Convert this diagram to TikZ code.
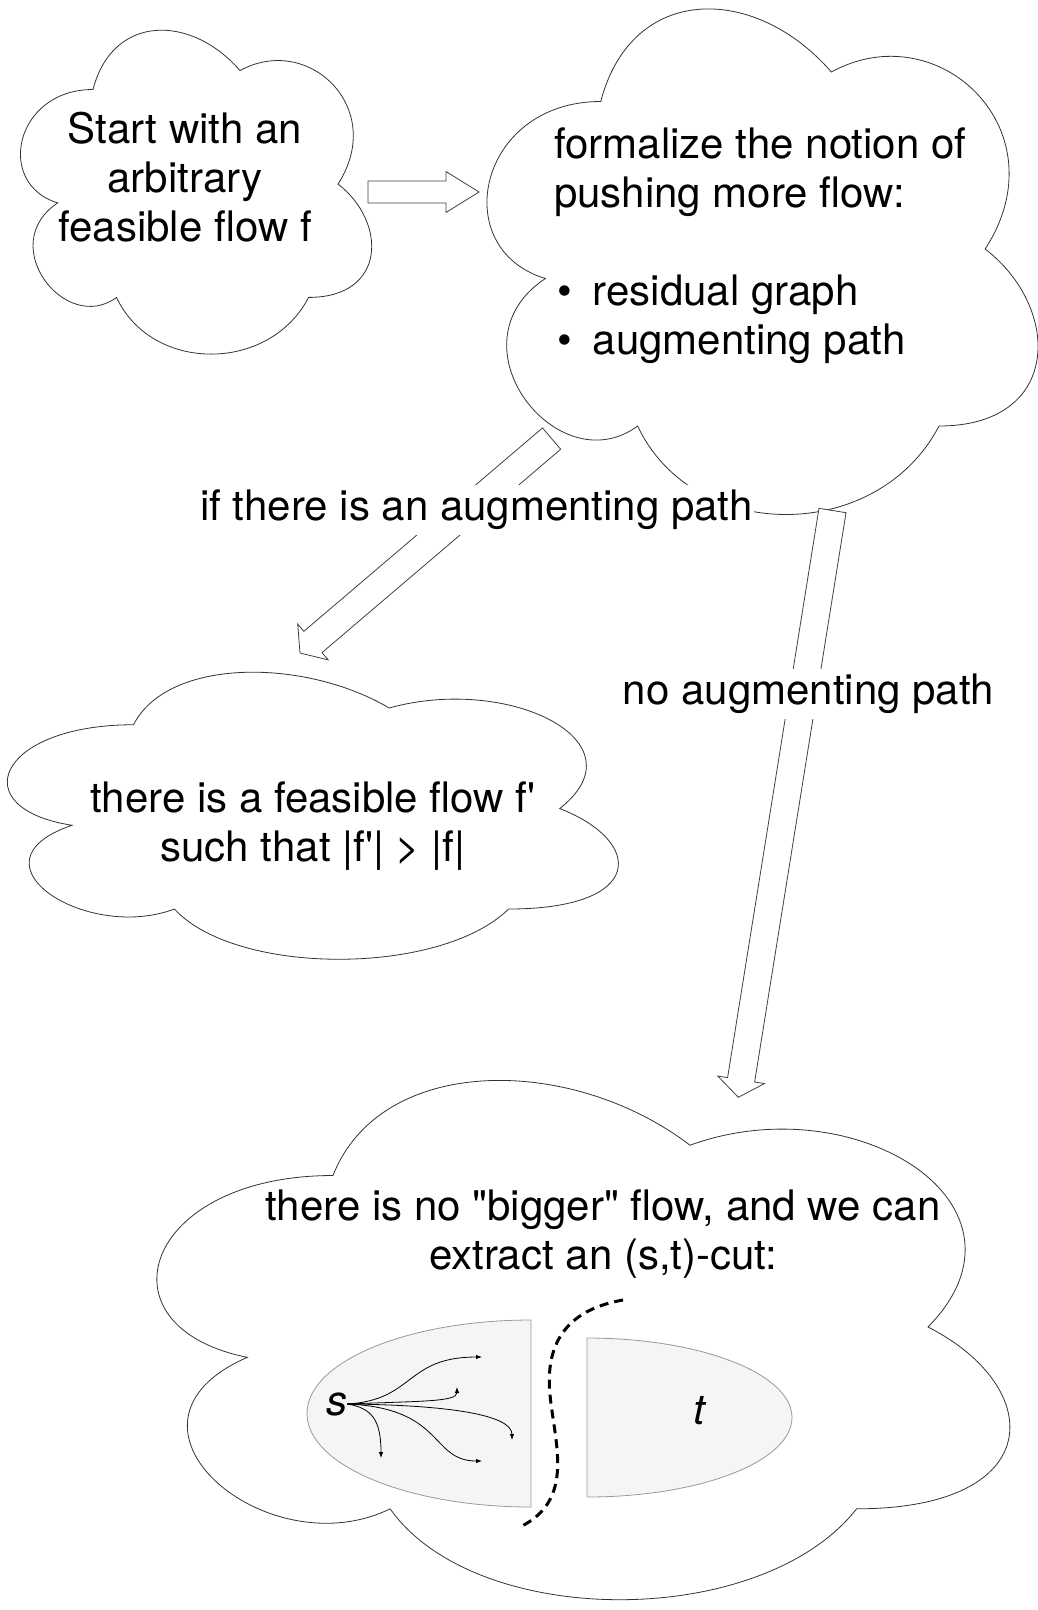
\documentclass[tikz,border=0pt]{standalone}
\usepackage{fontspec}
\newfontfamily\diagfont{TeX Gyre Heros}
\usetikzlibrary{arrows.meta, calc}

% hollow block arrow: from, to, shaft half width, head half width, head length
\newcommand{\blockarrow}[5]{%
  \coordinate (hb) at ($(#2)!#5!(#1)$);
  \draw[blockarrow] ($(#1)!#3!90:(#2)$) -- ($(hb)!#3!90:(#2)$) -- ($(hb)!#4!90:(#2)$) -- (#2)
    -- ($(hb)!#4!-90:(#2)$) -- ($(hb)!#3!-90:(#2)$) -- ($(#1)!#3!-90:(#2)$) -- cycle;}

\begin{document}
\begin{tikzpicture}[x=1pt, y=-1pt,
    txt/.style={font=\diagfont\fontsize{42}{49}\selectfont, inner sep=0pt},
    cloudline/.style={draw=black!80, fill=white, line width=0.8pt},
    blockarrow/.style={draw=black!75, fill=white, line width=0.8pt},
    edgelabel/.style={txt, fill=white, inner xsep=1pt, inner ysep=5pt},
    region/.style={fill=black!4, draw=black!40, line width=0.8pt},
    cutline/.style={line width=3pt, dash pattern=on 9pt off 6pt},
    flow/.style={-{Latex[length=6pt,width=4.5pt]}, line width=0.8pt},
    mxcloud/.pic={\path[cloudline] (0.25,0.25) .. controls (0.05,0.25) and (0,0.5) .. (0.16,0.55)
      .. controls (0,0.66) and (0.18,0.9) .. (0.31,0.8) .. controls (0.4,1) and (0.7,1) .. (0.8,0.8)
      .. controls (1,0.8) and (1,0.6) .. (0.875,0.5) .. controls (1,0.3) and (0.8,0.1) .. (0.625,0.2)
      .. controls (0.5,0.05) and (0.3,0.05) .. (0.25,0.25) -- cycle;}]
    \useasboundingbox (0,0) rectangle (1037,1610);

    % Clouds
    \path[shift={(-5,-5)}, x=392pt, y=-378pt] pic {mxcloud};
    \path[shift={(447,-46)}, x=615pt, y=-590pt] pic {mxcloud};
    \path[shift={(-37,641)}, x=682pt, y=-335pt] pic {mxcloud};
    \path[shift={(95,1024)}, x=952pt, y=-606pt] pic {mxcloud};

    % Cloud texts
    \node[txt, align=center] (start) at (185,177) {Start with an\\arbitrary\\feasible flow f};
    \node[txt, align=left, anchor=west] (formal) at (554,246) {formalize the notion of\\pushing more flow:\\[49pt]\hspace*{3pt}•\hspace{21pt}residual graph\\\hspace*{3pt}•\hspace{21pt}augmenting path};
    \node[txt, align=center] (bigger) at (313,826.5) {there is a feasible flow f'\\such that |f'| > |f|};
    \node[txt, align=center] (cuttext) at (603,1234) {there is no "bigger" flow, and we can\\extract an (s,t)-cut:};

    % Block arrows
    \coordinate (startout) at (368,192);
    \coordinate (formalin) at (479,192);
    \coordinate (formalyes) at (551.6,438.6);
    \coordinate (biggerin) at (300,653);
    \coordinate (formalno) at (832.5,510.5);
    \coordinate (cutin) at (738.3,1097.3);
    \blockarrow{startout}{formalin}{11pt}{20.5pt}{33pt}
    \blockarrow{formalyes}{biggerin}{14pt}{23.5pt}{17pt}
    \blockarrow{formalno}{cutin}{13.7pt}{23.6pt}{17.7pt}

    % Arrow labels
    \node[edgelabel] (yeslabel) at (476.5,510) {if there is an augmenting path};
    \node[edgelabel] (nolabel) at (808.5,694) {no augmenting path};

    % The (s,t)-cut
    \path[region] (531,1320) -- (531,1507) arc[start angle=270, end angle=90, x radius=224pt, y radius=93.5pt] -- cycle;
    \path[region] (587,1338) -- (587,1497) arc[start angle=-90, end angle=90, x radius=205pt, y radius=79.5pt] -- cycle;
    \node[txt, font=\diagfont\itshape\fontsize{42}{49}\selectfont] (s) at (336.5,1404) {s};
    \node[txt, font=\diagfont\itshape\fontsize{42}{49}\selectfont] (t) at (699,1411) {t};
    \draw[cutline] (623,1300) .. controls (565,1310) and (545,1345) .. (550,1395)
      .. controls (555,1445) and (575,1500) .. (520,1527);

    % Flow leaving s
    \draw[flow] (s.east) .. controls (415,1400) and (405,1357) .. (482,1357);
    \draw[flow] (s.east) .. controls (420,1401) and (457,1402) .. (457,1387);
    \draw[flow] (s.east) .. controls (450,1405) and (512,1415) .. (512,1440);
    \draw[flow] (s.east) .. controls (445,1408) and (430,1461) .. (482,1461);
    \draw[flow] (s.east) .. controls (372,1408) and (381,1420) .. (381,1458);
\end{tikzpicture}
\end{document}
